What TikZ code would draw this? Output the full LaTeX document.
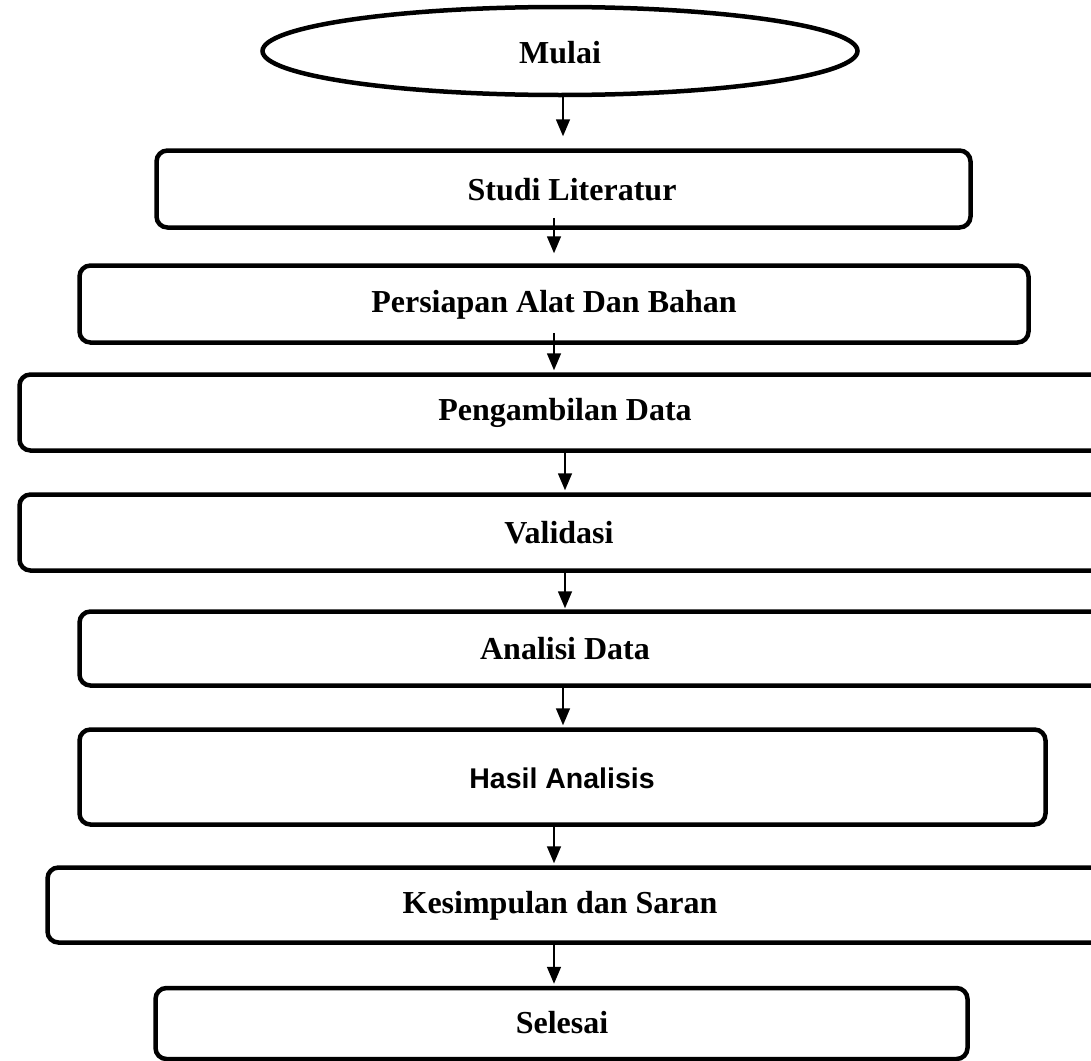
\documentclass[tikz,border=0pt]{standalone}
\usepackage{fontspec}
\setmainfont{Liberation Serif}
\newfontfamily\arialfont{Liberation Sans}
\usetikzlibrary{shapes.geometric,arrows.meta,calc}
\tikzset{
  stepbox/.style={draw=black, line width=4.5pt, rounded corners=11pt, rectangle, inner sep=0pt},
  startend/.style={draw=black, line width=4.5pt, ellipse, inner sep=0pt},
  txt/.style={font=\fontsize{32}{37}\selectfont\bfseries, inner sep=0pt},
  txtsans/.style={font=\fontsize{28.5}{33}\selectfont\arialfont\bfseries, inner sep=0pt},
  arr/.style={line width=1.6pt, -{Triangle[width=14pt,length=17pt]}}
}
\begin{document}
\begin{tikzpicture}[x=1pt,y=-1pt]
\useasboundingbox (0,0) rectangle (1091,1060);
% shapes
\node[startend, minimum width=595pt, minimum height=88pt] (mulai) at (560,51) {};
\node[txt] (tmulai) at (560,53) {Mulai};

\node[stepbox, minimum width=814pt, minimum height=77pt] (studi) at (563.5,189) {};
\node[txt] (tstudi) at (572,190) {Studi Literatur};

\node[stepbox, minimum width=949pt, minimum height=77pt] (pers) at (554,304) {};
\node[txt] (tpers) at (554,305) {Persiapan Alat Dan Bahan};

\node[stepbox, minimum width=1108pt, minimum height=76pt] (peng) at (573.5,412.5) {};
\node[txt] (tpeng) at (565,413) {Pengambilan Data};

\node[stepbox, minimum width=1108pt, minimum height=76pt] (valid) at (573.5,532.5) {};
\node[txt] (tvalid) at (559,533) {Validasi};

\node[stepbox, minimum width=1048pt, minimum height=74pt] (anal) at (603.5,648.5) {};
\node[txt] (tanal) at (565,649) {Analisi Data};

\node[stepbox, minimum width=966pt, minimum height=95pt] (hasil) at (562.5,777) {};
\node[txtsans] (thasil) at (562,778) {Hasil Analisis};

\node[stepbox, minimum width=1080pt, minimum height=75pt] (kesim) at (587.5,905) {};
\node[txt] (tkesim) at (560,906) {Kesimpulan dan Saran};

\node[stepbox, minimum width=812pt, minimum height=71pt] (selesai) at (561.5,1023.5) {};
\node[txt] (tselesai) at (562,1023) {Selesai};

% arrow x positions
\coordinate (xa) at (563,0);
\coordinate (xb) at (554,0);
\coordinate (xc) at (565,0);

\draw[arr, shorten >=12pt] (mulai.south -| xa) -- (studi.north -| xa);
\draw[arr, shorten >=10pt] (studi.south -| xb) ++(0,-12) -- (pers.north -| xb);
\draw[arr, shorten >=2pt] (pers.south -| xb) ++(0,-12) -- (peng.north -| xb);
\draw[arr, shorten >=2pt] (peng.south -| xc) -- (valid.north -| xc);
\draw[arr, shorten >=1pt] (valid.south -| xc) -- (anal.north -| xc);
\draw[arr, shorten >=2pt] (anal.south -| xa) -- (hasil.north -| xa);
\draw[arr, shorten >=2pt] (hasil.south -| xb) -- (kesim.north -| xb);
\draw[arr, shorten >=2pt] (kesim.south -| xb) -- (selesai.north -| xb);
\end{tikzpicture}
\end{document}
